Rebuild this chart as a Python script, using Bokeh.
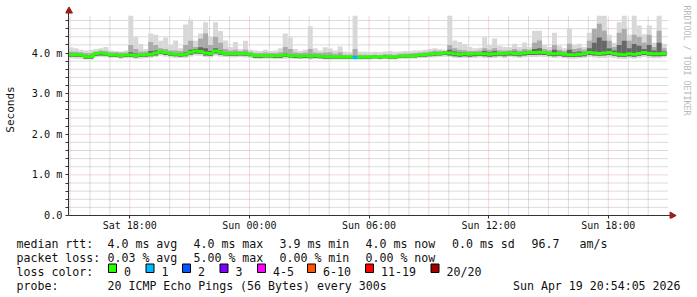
import math
from bokeh.plotting import figure
from bokeh.layouts import column
from bokeh.models import Range1d, FixedTicker
from bokeh.core.properties import value
from bokeh.embed import file_html
from bokeh.resources import INLINE

# ---------------- data ----------------
# time axis: hours since Sat 00:00, one sample every 15 minutes
T0 = 14.925
STEP = 0.25

# median rtt (ms)
median = [3.96, 3.96, 3.95, 3.91, 3.91, 3.99, 4.00, 3.98, 3.95, 3.96,
          3.94, 3.95, 3.95, 3.94, 3.95, 3.96, 3.97, 4.00, 4.04, 4.01,
          3.98, 3.97, 3.96, 3.97, 4.02, 4.05, 4.04, 4.00, 3.99, 4.05,
          4.02, 3.99, 3.98, 3.98, 3.99, 3.98, 3.97, 3.93, 3.93, 3.94,
          3.94, 3.93, 3.93, 3.95, 3.94, 3.93, 3.92, 3.93, 3.92, 3.93,
          3.92, 3.91, 3.91, 3.90, 3.90, 3.90, 3.90, 3.89, 3.90, 3.90,
          3.90, 3.91, 3.90, 3.91, 3.90, 3.90, 3.92, 3.92, 3.93, 3.93,
          3.95, 3.96, 3.97, 3.98, 3.99, 4.00, 4.00, 3.98, 3.97, 3.98,
          3.97, 3.98, 3.99, 3.98, 3.97, 3.98, 3.99, 3.98, 4.00, 3.99,
          3.98, 4.00, 4.01, 4.01, 4.02, 4.01, 3.99, 3.98, 3.99, 3.97,
          3.96, 3.96, 3.97, 3.98, 4.01, 4.00, 3.99, 4.00, 4.01, 3.99,
          3.97, 3.96, 3.98, 3.97, 3.99, 4.01, 3.99, 3.98, 3.98, 3.99]

# smoke: min / max of the 20 pings (ms)
ping_min = [3.87, 3.86, 3.86, 3.84, 3.84, 3.89, 3.90, 3.89, 3.87, 3.88,
            3.86, 3.87, 3.87, 3.86, 3.86, 3.87, 3.88, 3.90, 3.93, 3.91,
            3.89, 3.88, 3.88, 3.88, 3.91, 3.94, 3.93, 3.90, 3.89, 3.93,
            3.91, 3.90, 3.89, 3.89, 3.90, 3.89, 3.88, 3.86, 3.85, 3.86,
            3.86, 3.85, 3.85, 3.86, 3.86, 3.85, 3.85, 3.85, 3.84, 3.85,
            3.85, 3.84, 3.84, 3.84, 3.84, 3.84, 3.84, 3.83, 3.84, 3.84,
            3.84, 3.85, 3.84, 3.85, 3.84, 3.84, 3.85, 3.85, 3.86, 3.86,
            3.87, 3.88, 3.89, 3.89, 3.90, 3.91, 3.90, 3.88, 3.87, 3.88,
            3.87, 3.88, 3.89, 3.88, 3.87, 3.88, 3.89, 3.88, 3.90, 3.89,
            3.88, 3.89, 3.90, 3.90, 3.91, 3.90, 3.89, 3.88, 3.89, 3.87,
            3.86, 3.86, 3.87, 3.88, 3.90, 3.89, 3.87, 3.88, 3.89, 3.88,
            3.86, 3.85, 3.87, 3.86, 3.88, 3.90, 3.88, 3.87, 3.87, 3.89]

ping_max = [4.14, 4.12, 4.08, 4.06, 4.08, 4.10, 4.12, 4.15, 4.06, 4.05,
            4.04, 4.06, 4.92, 4.40, 4.22, 4.10, 4.48, 4.45, 4.30, 4.38,
            4.20, 4.31, 4.12, 4.70, 4.82, 4.30, 4.48, 4.76, 4.40, 4.76,
            4.54, 4.31, 4.15, 4.27, 4.10, 4.30, 4.08, 4.06, 4.05, 4.08,
            4.05, 4.06, 4.12, 4.48, 4.38, 4.10, 4.05, 4.08, 4.66, 4.12,
            4.06, 4.14, 4.11, 4.06, 4.16, 4.03, 4.02, 4.92, 4.03, 4.03,
            4.02, 4.03, 4.02, 4.04, 4.05, 4.03, 4.04, 4.05, 4.05, 4.06,
            4.06, 4.08, 4.10, 4.12, 4.10, 4.08, 4.92, 4.31, 4.27, 4.22,
            4.15, 4.12, 4.13, 4.39, 4.20, 4.36, 4.18, 4.15, 4.14, 4.23,
            4.15, 4.26, 4.15, 4.55, 4.55, 4.20, 4.15, 4.50, 4.18, 4.12,
            4.60, 4.20, 4.23, 4.15, 4.50, 4.55, 4.92, 4.92, 4.45, 4.25,
            4.76, 4.92, 4.45, 4.92, 4.68, 4.46, 4.68, 4.25, 4.92, 4.23]

# inner smoke layers
ping_q1 = [3.91, 3.91, 3.90, 3.86, 3.86, 3.93, 3.94, 3.93, 3.90, 3.91,
           3.89, 3.90, 3.90, 3.89, 3.90, 3.91, 3.92, 3.94, 3.98, 3.95,
           3.93, 3.92, 3.91, 3.92, 3.96, 3.99, 3.98, 3.94, 3.93, 3.99,
           3.96, 3.94, 3.93, 3.93, 3.94, 3.93, 3.92, 3.88, 3.88, 3.89,
           3.89, 3.88, 3.88, 3.90, 3.89, 3.88, 3.87, 3.88, 3.87, 3.88,
           3.87, 3.86, 3.86, 3.86, 3.86, 3.86, 3.86, 3.85, 3.86, 3.86,
           3.86, 3.87, 3.86, 3.87, 3.86, 3.86, 3.88, 3.88, 3.89, 3.89,
           3.90, 3.91, 3.92, 3.93, 3.94, 3.95, 3.94, 3.92, 3.91, 3.92,
           3.91, 3.92, 3.93, 3.92, 3.91, 3.92, 3.93, 3.92, 3.94, 3.93,
           3.92, 3.94, 3.95, 3.95, 3.96, 3.95, 3.93, 3.92, 3.93, 3.91,
           3.90, 3.90, 3.91, 3.92, 3.95, 3.94, 3.93, 3.94, 3.95, 3.93,
           3.91, 3.90, 3.92, 3.91, 3.93, 3.95, 3.93, 3.92, 3.92, 3.93]

ping_q9 = [4.04, 4.03, 4.02, 4.00, 4.00, 4.04, 4.06, 4.05, 4.02, 4.02,
           4.01, 4.01, 4.20, 4.10, 4.04, 4.04, 4.27, 4.20, 4.12, 4.10,
           4.06, 4.06, 4.05, 4.20, 4.30, 4.15, 4.35, 4.48, 4.20, 4.40,
           4.25, 4.10, 4.06, 4.08, 4.05, 4.08, 4.03, 4.00, 4.00, 4.01,
           4.00, 4.00, 4.02, 4.15, 4.10, 4.01, 4.00, 4.01, 4.10, 4.01,
           4.00, 4.01, 4.02, 3.98, 4.02, 3.96, 3.96, 4.10, 3.96, 3.96,
           3.95, 3.96, 3.95, 3.97, 3.97, 3.96, 3.98, 3.99, 3.99, 4.00,
           4.01, 4.02, 4.04, 4.06, 4.05, 4.05, 4.20, 4.12, 4.08, 4.07,
           4.05, 4.05, 4.06, 4.12, 4.08, 4.12, 4.07, 4.06, 4.07, 4.10,
           4.06, 4.10, 4.08, 4.25, 4.31, 4.10, 4.07, 4.20, 4.08, 4.05,
           4.23, 4.10, 4.12, 4.08, 4.30, 4.60, 4.72, 4.55, 4.30, 4.15,
           4.50, 4.60, 4.30, 4.45, 4.40, 4.25, 4.45, 4.15, 4.55, 4.12]

ping_q7 = [3.99, 3.98, 3.97, 3.94, 3.94, 4.01, 4.02, 4.00, 3.97, 3.98,
           3.96, 3.97, 4.02, 3.99, 3.97, 3.98, 4.05, 4.06, 4.07, 4.04,
           4.01, 4.00, 3.99, 4.02, 4.08, 4.10, 4.14, 4.12, 4.05, 4.12,
           4.06, 4.02, 4.00, 4.01, 4.01, 4.01, 3.99, 3.95, 3.95, 3.96,
           3.96, 3.95, 3.95, 3.99, 3.97, 3.95, 3.94, 3.95, 3.96, 3.95,
           3.94, 3.93, 3.94, 3.92, 3.93, 3.92, 3.92, 3.93, 3.92, 3.92,
           3.92, 3.93, 3.92, 3.93, 3.92, 3.92, 3.94, 3.95, 3.96, 3.96,
           3.97, 3.98, 4.00, 4.01, 4.02, 4.03, 4.08, 4.04, 4.01, 4.02,
           4.00, 4.01, 4.02, 4.05, 4.02, 4.05, 4.02, 4.01, 4.03, 4.04,
           4.01, 4.04, 4.04, 4.10, 4.12, 4.05, 4.02, 4.08, 4.03, 4.00,
           4.08, 4.02, 4.04, 4.02, 4.12, 4.25, 4.38, 4.30, 4.12, 4.06,
           4.20, 4.30, 4.12, 4.22, 4.18, 4.10, 4.20, 4.06, 4.25, 4.04]

# lost pings (of 20) per sample
loss = [0, 0, 0, 0, 0, 0, 0, 0, 0, 0,
        0, 0, 0, 0, 0, 0, 0, 0, 0, 0,
        0, 0, 0, 0, 0, 0, 0, 0, 0, 0,
        0, 0, 0, 0, 0, 0, 0, 0, 0, 0,
        0, 0, 0, 0, 0, 0, 0, 0, 0, 0,
        0, 0, 0, 0, 0, 0, 0, 1, 0, 0,
        0, 0, 0, 0, 0, 0, 0, 0, 0, 0,
        0, 0, 0, 0, 0, 0, 0, 0, 0, 0,
        0, 0, 0, 0, 0, 0, 0, 0, 0, 0,
        0, 0, 0, 0, 0, 0, 0, 0, 0, 0,
        0, 0, 0, 0, 0, 0, 0, 0, 0, 0,
        0, 0, 0, 0, 0, 0, 0, 0, 0, 0]

x_ticks = [18, 24, 30, 36, 42]
x_tick_labels = ["Sat 18:00", "Sun 00:00", "Sun 06:00", "Sun 12:00", "Sun 18:00"]
y_ticks = [0, 1, 2, 3, 4]
y_tick_labels = ["0.0", "1.0 m", "2.0 m", "3.0 m", "4.0 m"]

loss_labels = ["0", "1", "2", "3", "4-5", "6-10", "11-19", "20/20"]
loss_upper = [0, 1, 2, 3, 5, 10, 19, 20]
loss_colors = ["#26ff00", "#00b8ff", "#0059ff", "#7e00ff", "#ff00ff", "#ff5500", "#ff0000", "#a00000"]

rtt_stats = ["4.0 ms avg", "4.0 ms max", "3.9 ms min", "4.0 ms now", "0.0 ms sd", "96.7", "am/s"]
loss_stats = ["0.03 % avg", "5.00 % max", "0.00 % min", "0.00 % now"]
probe_text = "20 ICMP Echo Pings (56 Bytes) every 300s"
stamp_text = "Sun Apr 19 20:54:05 2026"

# ---------------- layout constants ----------------
PX_H = 20.0       # px per hour
PX_V = 40.625     # px per ms
OX, OY = 66, 215  # canvas px of the origin
LEFT = 63         # canvas px of the frame's left edge
Y_TOP = 4.92      # top of plotting area (ms)
MONO = "DejaVu Sans Mono"

p = figure(width=697, height=234, title=None,
           x_range=Range1d(T0 - (OX - LEFT) / PX_H, T0 + (697 - OX) / PX_H),
           y_range=Range1d(-3 / PX_V, OY / PX_V),
           output_backend="svg", toolbar_location=None,
           min_border_left=LEFT, min_border_right=0, min_border_top=0, min_border_bottom=16)
p.frame_align = False
p.outline_line_color = None
p.xgrid.visible = False
p.ygrid.visible = False
p.background_fill_color = "white"
p.border_fill_color = "white"

# grid
y_minor = [round(0.2 * k, 1) for k in range(1, 25) if k % 5]
y_major = [1, 2, 3, 4]
x_major = [h for h in range(15, 45) if h % 3 == 0]
x_minor = [h for h in range(15, 45) if h % 3]
x_grid_end = T0 + 602 / PX_H
MINOR_C = "#b8b8b8"
MAJOR_C = "#e2aeae"
p.segment(x0=T0, x1=x_grid_end, y0=y_minor, y1=y_minor, line_color=MINOR_C, line_width=1, line_dash="1 1")
p.segment(x0=x_minor, x1=x_minor, y0=0, y1=Y_TOP, line_color=MINOR_C, line_width=1, line_dash="1 1")
p.segment(x0=T0, x1=x_grid_end, y0=y_major, y1=y_major, line_color=MAJOR_C, line_width=1, line_dash="1 1")
p.segment(x0=x_major, x1=x_major, y0=0, y1=Y_TOP, line_color=MAJOR_C, line_width=1, line_dash="1 1")

# smoke
lefts = [T0 + STEP * i for i in range(len(median))]
rights = [T0 + STEP * (i + 1) for i in range(len(median))]
p.quad(left=lefts, right=rights, bottom=ping_min, top=ping_max, fill_color="#d8d8d8", line_color=None)
p.quad(left=lefts, right=rights, bottom=ping_q1, top=ping_q9, fill_color="#ababab", line_color=None)
p.quad(left=lefts, right=rights, bottom=ping_q1, top=ping_q7, fill_color="#676767", line_color=None)

# median line coloured by loss
tx = lefts + [rights[-1]]
ty = median + [median[-1]]
p.step(x=tx, y=ty, mode="after", line_width=3, line_color=loss_colors[0])


def loss_color(n):
    for up, c in zip(loss_upper, loss_colors):
        if n <= up:
            return c
    return loss_colors[-1]


idx = [i for i, n in enumerate(loss) if n > 0]
p.segment(x0=[lefts[i] for i in idx], x1=[rights[i] for i in idx],
          y0=[median[i] for i in idx], y1=[median[i] for i in idx],
          line_color=[loss_color(loss[i]) for i in idx], line_width=3)

# axis lines with arrows
AX = "#333333"
p.segment(x0=[T0, T0], y0=[0, 0], x1=[T0 + 604 / PX_H, T0], y1=[0, 203 / PX_V], line_color=AX, line_width=1)
p.scatter(x=[T0 + 605.5 / PX_H, T0 + 0.5 / PX_H], y=[0, 204.5 / PX_V], marker="triangle", size=7,
          angle=[-math.pi / 2, 0], fill_color="#9b1c1c", line_color="#9b1c1c")

# watermark
p.text(x=[T0 + 620 / PX_H], y=[(OY - 5) / PX_V], text=["RRDTOOL / TOBI OETIKER"], angle=-math.pi / 2,
       text_font=value(MONO), text_font_size="8.3px", text_color="#b8b8b8",
       text_align="left", text_baseline="middle")

# axes
p.xaxis.ticker = FixedTicker(ticks=x_ticks, minor_ticks=[])
p.xaxis.major_label_overrides = dict(zip(x_ticks, x_tick_labels))
p.xaxis.axis_line_color = None
p.xaxis.major_tick_in = 3
p.xaxis.major_tick_out = 0
p.xaxis.minor_tick_in = 0
p.xaxis.minor_tick_out = 0
p.xaxis.major_tick_line_color = AX
p.xaxis.major_label_standoff = 1
p.xaxis.major_label_text_font = MONO
p.xaxis.major_label_text_font_size = "10px"
p.xaxis.major_label_text_color = "#111111"

p.yaxis.ticker = FixedTicker(ticks=y_ticks, minor_ticks=y_minor)
p.yaxis.major_label_overrides = dict(zip(y_ticks, y_tick_labels))
p.yaxis.axis_line_color = None
p.yaxis.major_tick_in = 3
p.yaxis.major_tick_out = 0
p.yaxis.minor_tick_in = 3
p.yaxis.minor_tick_out = 0
p.yaxis.major_tick_line_color = AX
p.yaxis.minor_tick_line_color = AX
p.yaxis.major_label_standoff = 3
p.yaxis.major_label_text_font = MONO
p.yaxis.major_label_text_font_size = "10.2px"
p.yaxis.major_label_text_color = "#111111"
p.yaxis.axis_label = "Seconds"
p.yaxis.axis_label_text_font = MONO
p.yaxis.axis_label_text_font_size = "11px"
p.yaxis.axis_label_text_font_style = "normal"
p.yaxis.axis_label_text_color = "#111111"
p.yaxis.axis_label_standoff = 12

# ---------------- legend block (canvas-pixel coordinates) ----------------
q = figure(width=697, height=63, title=None, x_range=Range1d(0, 697), y_range=Range1d(297, 234),
           output_backend="svg", toolbar_location=None, x_axis_type=None, y_axis_type=None,
           min_border=0)
q.frame_align = False
q.outline_line_color = None
q.background_fill_color = "white"
q.border_fill_color = "white"

FS = "11.6px"
TXT = "#111111"
line_y = [243, 257.5, 271, 285.5]
heads = ["median rtt:", "packet loss:", "loss color:", "probe:"]
q.text(x=[16] * 4, y=line_y, text=heads, text_font=value(MONO), text_font_size=FS,
       text_color=TXT, text_baseline="alphabetic")

rtt_x = [107, 193, 279, 365, 451.5, 531, 579]
q.text(x=rtt_x, y=[line_y[0]] * len(rtt_stats), text=rtt_stats, text_font=value(MONO),
       text_font_size=FS, text_color=TXT, text_baseline="alphabetic")
loss_x = [107, 193, 279, 365]
q.text(x=loss_x, y=[line_y[1]] * len(loss_stats), text=loss_stats, text_font=value(MONO),
       text_font_size=FS, text_color=TXT, text_baseline="alphabetic")

sq_x = [108, 145.5, 182, 219.5, 257, 307, 365, 430.5]
q.quad(left=sq_x, right=[s + 8 for s in sq_x], top=[263.5] * 8, bottom=[272] * 8,
       fill_color=loss_colors, line_color="#000000", line_width=1)
q.text(x=[s + 15.5 for s in sq_x], y=[line_y[2]] * 8, text=loss_labels, text_font=value(MONO),
       text_font_size=FS, text_color=TXT, text_baseline="alphabetic")

q.text(x=[107], y=[line_y[3]], text=[probe_text], text_font=value(MONO), text_font_size=FS,
       text_color=TXT, text_baseline="alphabetic")
q.text(x=[680], y=[line_y[3]], text=[stamp_text], text_font=value(MONO), text_font_size=FS,
       text_color=TXT, text_baseline="alphabetic", text_align="right")

layout = column(p, q, spacing=0)
open("out.html", "w").write(file_html(layout, INLINE))
